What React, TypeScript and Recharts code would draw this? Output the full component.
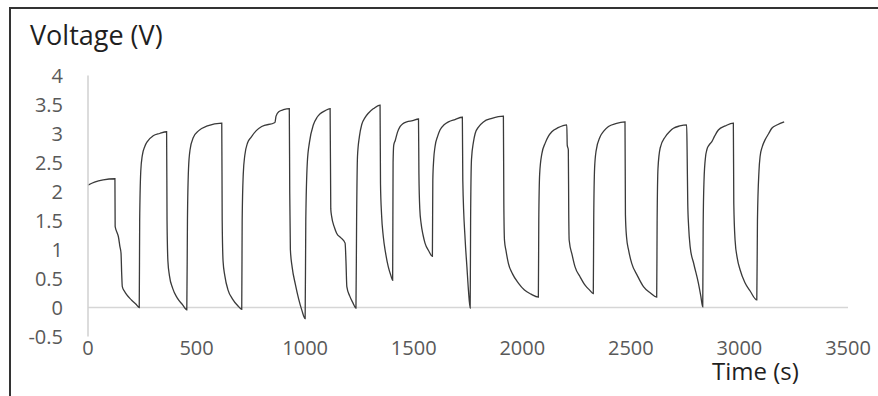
import { LineChart, Line, XAxis, YAxis, ReferenceLine } from "recharts";

// time (s) and voltage (V)
const times = [
  0, 30, 70, 124, 125, 135, 140, 147, 152, 155, 158, 168, 178, 200, 220, 236,
  238, 243, 250, 262, 275, 300, 330, 362,
  364, 368, 375, 390, 410, 435, 455,
  458, 463, 470, 485, 510, 550, 616,
  618, 622, 630, 645, 665, 690, 708,
  710, 715, 722, 735, 750, 775, 800, 861, 866, 880, 900, 927,
  929, 932, 940, 955, 970, 985, 1000,
  1003, 1010, 1020, 1038, 1055, 1069, 1090, 1115,
  1118, 1122, 1135, 1145, 1165, 1184, 1188, 1192, 1205, 1220, 1234,
  1237, 1241, 1250, 1261, 1275, 1291, 1315, 1345,
  1347, 1352, 1360, 1370, 1383, 1395, 1403,
  1405, 1408, 1415, 1425, 1437, 1450, 1468, 1495, 1522,
  1524, 1528, 1534, 1543, 1552, 1570, 1586,
  1588, 1592, 1598, 1610, 1621, 1640, 1660, 1690, 1724,
  1726, 1737, 1745, 1752, 1760,
  1762, 1766, 1775, 1783, 1800, 1821, 1860, 1913,
  1915, 1918, 1925, 1936, 1955, 1982, 2010, 2040, 2074,
  2076, 2080, 2090, 2105, 2120, 2136, 2165, 2205,
  2207, 2212, 2214, 2216, 2230, 2243, 2266, 2290, 2310, 2327,
  2329, 2333, 2340, 2358, 2375, 2397, 2430, 2473,
  2475, 2480, 2490, 2504, 2530, 2558, 2590, 2619,
  2621, 2625, 2635, 2658, 2680, 2696, 2725, 2757,
  2759, 2762, 2766, 2773, 2790, 2811, 2822, 2831,
  2833, 2837, 2844, 2850, 2860, 2873, 2885, 2903, 2935, 2972,
  2974, 2980, 2990, 3003, 3025, 3050, 3080,
  3083, 3090, 3095, 3105, 3118, 3135, 3149, 3175, 3206,
];

const volts = [
  2.11, 2.16, 2.2, 2.22, 1.4, 1.28, 1.22, 1.05, 0.94, 0.6, 0.36, 0.28, 0.22, 0.13, 0.06, 0.0,
  1.5, 2.35, 2.62, 2.78, 2.87, 2.96, 3.0, 3.03,
  1.5, 0.8, 0.55, 0.33, 0.17, 0.05, -0.04,
  1.5, 2.4, 2.72, 2.93, 3.05, 3.13, 3.18,
  1.5, 0.8, 0.55, 0.3, 0.15, 0.03, -0.03,
  1.5, 2.3, 2.62, 2.84, 2.93, 3.05, 3.12, 3.19, 3.3, 3.38, 3.41, 3.43,
  2.0, 1.0, 0.7, 0.4, 0.15, -0.05, -0.19,
  1.5, 2.5, 2.85, 3.15, 3.28, 3.34, 3.39, 3.43,
  1.7, 1.57, 1.38, 1.28, 1.2, 1.11, 0.8, 0.36, 0.2, 0.08, -0.01,
  1.5, 2.6, 2.95, 3.16, 3.27, 3.35, 3.43, 3.49,
  2.14, 1.6, 1.22, 0.95, 0.7, 0.55, 0.47,
  2.5, 2.8, 2.88, 3.02, 3.12, 3.17, 3.2, 3.22, 3.25,
  2.3, 1.7, 1.45, 1.25, 1.11, 0.97, 0.88,
  2.2, 2.55, 2.77, 2.95, 3.06, 3.15, 3.2, 3.24, 3.28,
  2.2, 1.16, 0.7, 0.3, -0.01,
  1.5, 2.55, 2.85, 3.0, 3.12, 3.2, 3.26, 3.3,
  1.8, 1.16, 0.98, 0.76, 0.58, 0.42, 0.3, 0.23, 0.18,
  1.5, 2.3, 2.65, 2.83, 2.95, 3.03, 3.1, 3.15,
  2.8, 2.72, 1.6, 1.16, 0.9, 0.7, 0.53, 0.38, 0.3, 0.24,
  1.5, 2.4, 2.7, 2.94, 3.04, 3.12, 3.17, 3.2,
  1.6, 1.22, 0.98, 0.76, 0.55, 0.36, 0.25, 0.18,
  1.5, 2.4, 2.75, 2.94, 3.04, 3.09, 3.13, 3.15,
  2.72, 1.8, 1.4, 1.05, 0.75, 0.42, 0.2, 0.01,
  1.4, 2.2, 2.6, 2.72, 2.8, 2.86, 2.95, 3.06, 3.13, 3.18,
  1.8, 1.16, 0.85, 0.65, 0.43, 0.28, 0.13,
  1.5, 2.35, 2.6, 2.77, 2.89, 3.0, 3.09, 3.15, 3.2,
];

const xTicks = [0, 500, 1000, 1500, 2000, 2500, 3000, 3500];
const yTicks = [-0.5, 0, 0.5, 1, 1.5, 2, 2.5, 3, 3.5, 4];

const data = times.map((t, i) => ({ t, v: volts[i] }));

const FONT = "'Open Sans', sans-serif";
const tickStyle = { fontSize: 20, fill: "#595959", fontFamily: FONT };

export default function App() {
  return (
    <div style={{ position: "absolute", left: 0, top: 0, width: 878, height: 396, background: "#fff" }}>
      <div
        style={{
          position: "absolute",
          left: 9,
          top: 7,
          width: 869,
          height: 389,
          borderTop: "2px solid #333",
          borderLeft: "2px solid #333",
          boxSizing: "border-box",
        }}
      />
      <LineChart
        width={878}
        height={396}
        data={data}
        margin={{ top: 75.5, right: 30, bottom: 19.5, left: 0 }}
      >
        <XAxis
          dataKey="t"
          type="number"
          domain={[0, 3500]}
          ticks={xTicks}
          axisLine={false}
          tickLine={false}
          tickSize={0}
          tickMargin={4}
          height={40}
          tick={tickStyle}
          interval={0}
        />
        <YAxis
          type="number"
          domain={[-0.5, 4]}
          ticks={yTicks}
          width={88}
          axisLine={{ stroke: "#d0d0d0", strokeWidth: 1.5 }}
          tickLine={false}
          tickSize={0}
          tickMargin={25}
          tick={tickStyle}
          interval={0}
        />
        <ReferenceLine y={0} stroke="#d6d6d6" strokeWidth={1.5} />
        <Line
          type="monotone"
          dataKey="v"
          stroke="#3a3a3a"
          strokeWidth={1.3}
          dot={false}
          isAnimationActive={false}
        />
      </LineChart>
      <div
        style={{
          position: "absolute",
          left: 30,
          top: 17,
          fontFamily: FONT,
          fontSize: 27,
          lineHeight: "36px",
          color: "#1f1f1f",
          whiteSpace: "nowrap",
        }}
      >
        Voltage (V)
      </div>
      <div
        style={{
          position: "absolute",
          left: 712,
          top: 360,
          fontFamily: FONT,
          fontSize: 24,
          lineHeight: "22px",
          color: "#1f1f1f",
          whiteSpace: "nowrap",
        }}
      >
        Time (s)
      </div>
    </div>
  );
}
